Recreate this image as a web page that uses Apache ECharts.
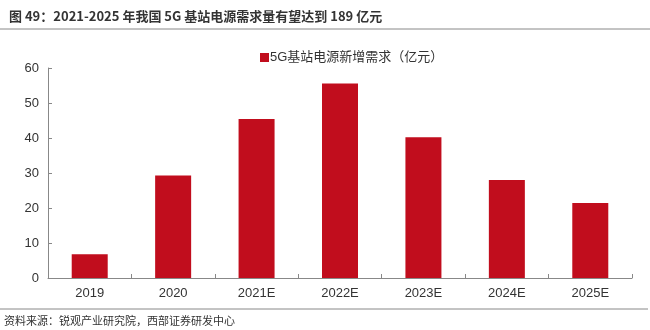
<!DOCTYPE html>
<html>
<head>
<meta charset="utf-8">
<script src="https://cdn.jsdelivr.net/npm/echarts@6/dist/echarts.min.js"></script>
<style>
html,body{margin:0;padding:0;background:#fff;}
#c{width:650px;height:330px;}
</style>
</head>
<body>
<div id="c"></div>
<script>
const categories = ['2019', '2020', '2021E', '2022E', '2023E', '2024E', '2025E'];
const demand = [6.8, 29.3, 45.4, 55.6, 40.2, 28.0, 21.4];
const seriesName = '5G基站电源新增需求（亿元）';
const titleText = '图 49：2021-2025 年我国 5G 基站电源需求量有望达到 189 亿元';
const sourceText = '资料来源：锐观产业研究院，西部证券研发中心';

const FONT = '"Noto Sans CJK SC", "Noto Sans", sans-serif';
const NUMFONT = '"Liberation Sans", Arial, "Noto Sans CJK SC", sans-serif';
const chart = echarts.init(document.getElementById('c'), null, {renderer: 'canvas'});
chart.setOption({
  backgroundColor: '#fff',
  animation: false,
  textStyle: {fontFamily: FONT},
  title: {
    text: titleText,
    left: 4, top: 5,
    textStyle: {fontSize: 13, fontWeight: 'bold', color: '#333', fontFamily: FONT}
  },
  graphic: [
    {type: 'line', shape: {x1: 0, y1: 29, x2: 650, y2: 29}, style: {stroke: '#888', lineWidth: 1}},
    {type: 'line', shape: {x1: 0, y1: 309, x2: 648, y2: 309}, style: {stroke: '#888', lineWidth: 1}},
    {type: 'text', left: 4, top: 315, style: {text: sourceText, fontSize: 11, fill: '#333', fontFamily: FONT}}
  ],
  legend: {
    data: [seriesName],
    left: 255, top: 46,
    itemWidth: 9, itemHeight: 9,
    icon: 'rect',
    textStyle: {fontSize: 13, color: '#333', padding: [0, 0, 0, -4], fontFamily: NUMFONT}
  },
  grid: {left: 48, right: 18, top: 68, bottom: 52, containLabel: false},
  xAxis: {
    type: 'category',
    data: categories,
    axisLine: {lineStyle: {color: '#888'}},
    axisTick: {show: true, inside: true, length: 4, lineStyle: {color: '#888'}},
    axisLabel: {fontSize: 13, color: '#333', margin: 9, fontFamily: NUMFONT}
  },
  yAxis: {
    type: 'value',
    min: 0, max: 60, interval: 10,
    axisLine: {show: true, lineStyle: {color: '#888'}},
    axisTick: {show: true, inside: true, length: 4, lineStyle: {color: '#888'}},
    splitLine: {show: false},
    axisLabel: {fontSize: 13, color: '#333', margin: 9, fontFamily: NUMFONT}
  },
  series: [{
    name: seriesName,
    type: 'bar',
    data: demand,
    barWidth: 36,
    itemStyle: {color: '#C10D1D'}
  }]
});
</script>
</body>
</html>
